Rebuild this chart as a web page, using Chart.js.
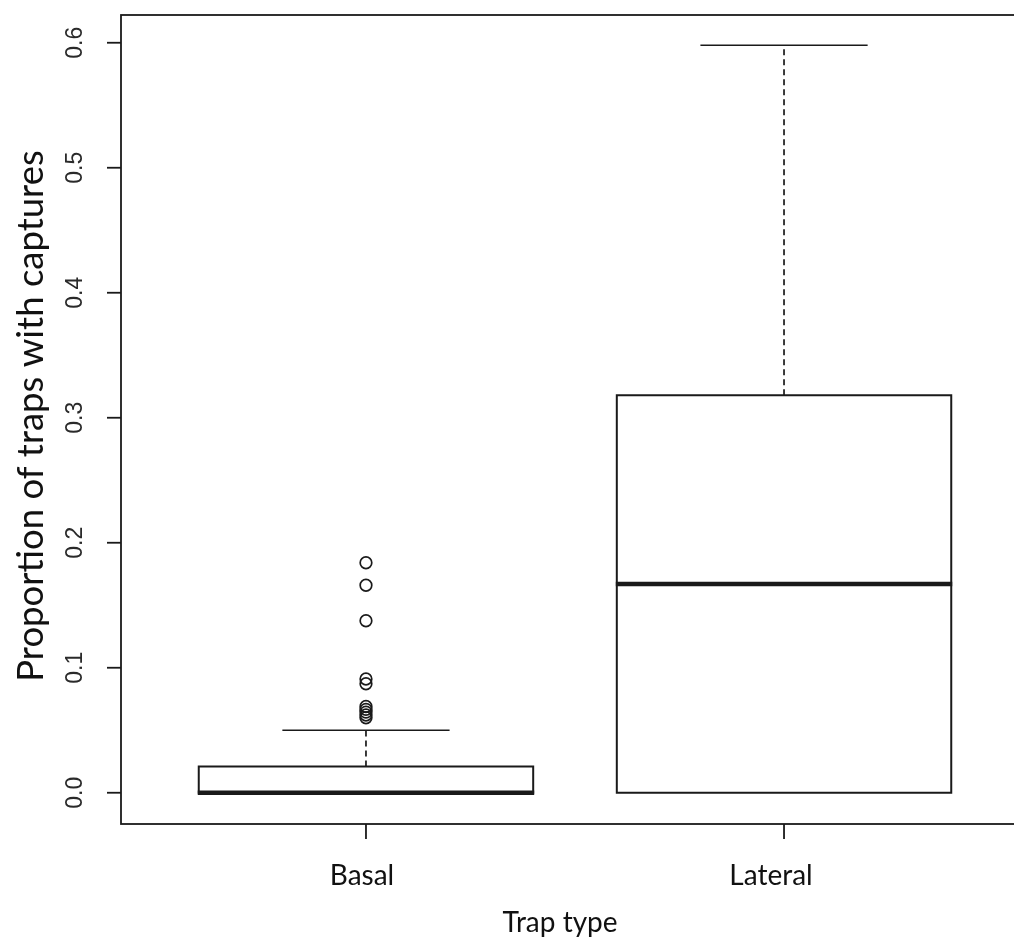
<!DOCTYPE html>
<html>
<head>
<meta charset="UTF-8">
<script src="https://cdn.jsdelivr.net/npm/chart.js@4.4.0/dist/chart.umd.min.js"></script>
<style>
  html, body { margin: 0; padding: 0; background: #fff; overflow: hidden; }
  #chart { display: block; }
</style>
</head>
<body>
<canvas id="chart" width="1030" height="941"></canvas>
<script>
// データ
const categories = ["Basal", "Lateral"];
const categoryPos = [1, 2];
const q1Values = [0, 0];
const medianValues = [0, 0.167];
const q3Values = [0.021, 0.318];
const whiskerLow = [0, 0];
const whiskerHigh = [0.05, 0.598];
const basalOutliers = [0.184, 0.166, 0.1376, 0.091, 0.0872, 0.069, 0.0667, 0.0645, 0.0622, 0.06];
const yTickValues = [0, 0.1, 0.2, 0.3, 0.4, 0.5, 0.6];
const yTickLabels = ["0.0", "0.1", "0.2", "0.3", "0.4", "0.5", "0.6"];
const xTitle = "Trap type";
const yTitle = "Proportion of traps with captures";

const LINE = "#1a1a1a";

// 箱ひげ図と軸を描くプラグイン
const boxplotPlugin = {
  id: "boxplot",
  beforeDatasetsDraw(chart) {
    const ctx = chart.ctx;
    const xs = chart.scales.x;
    const ys = chart.scales.y;
    const boxHalf = 0.4;
    const capHalf = 0.2;
    ctx.save();
    ctx.strokeStyle = LINE;
    for (let i = 0; i < categories.length; i++) {
      const cx = xs.getPixelForValue(categoryPos[i]);
      const left = xs.getPixelForValue(categoryPos[i] - boxHalf);
      const right = xs.getPixelForValue(categoryPos[i] + boxHalf);
      const capL = xs.getPixelForValue(categoryPos[i] - capHalf);
      const capR = xs.getPixelForValue(categoryPos[i] + capHalf);
      const yq1 = ys.getPixelForValue(q1Values[i]);
      const yq3 = ys.getPixelForValue(q3Values[i]);
      const ymed = ys.getPixelForValue(medianValues[i]);
      const yhi = ys.getPixelForValue(whiskerHigh[i]);
      const ylo = ys.getPixelForValue(whiskerLow[i]);

      // ひげ（破線）
      ctx.lineWidth = 1.7;
      ctx.setLineDash([6, 4]);
      ctx.beginPath();
      ctx.moveTo(cx, yq3);
      ctx.lineTo(cx, yhi);
      if (ylo > yq1 + 0.5) {
        ctx.moveTo(cx, yq1);
        ctx.lineTo(cx, ylo);
      }
      ctx.stroke();
      ctx.setLineDash([]);

      // キャップ
      ctx.beginPath();
      ctx.moveTo(capL, yhi);
      ctx.lineTo(capR, yhi);
      if (ylo > yq1 + 0.5) {
        ctx.moveTo(capL, ylo);
        ctx.lineTo(capR, ylo);
      }
      ctx.stroke();

      // 箱
      ctx.lineWidth = 2;
      ctx.strokeRect(left, yq3, right - left, yq1 - yq3);

      // 中央値
      ctx.lineWidth = 4.5;
      ctx.beginPath();
      ctx.moveTo(left - 1, ymed);
      ctx.lineTo(right + 1, ymed);
      ctx.stroke();
    }
    ctx.restore();
  },
  afterDraw(chart) {
    const ctx = chart.ctx;
    const area = chart.chartArea;
    const xs = chart.scales.x;
    const ys = chart.scales.y;
    ctx.save();
    ctx.strokeStyle = LINE;
    ctx.lineWidth = 1.8;

    // 枠
    ctx.strokeRect(area.left, area.top, area.right - area.left, area.bottom - area.top);

    // y 目盛り
    ctx.fillStyle = "#2a2a2a";
    ctx.font = "23px 'Liberation Sans', Arial, sans-serif";
    ctx.textAlign = "center";
    ctx.textBaseline = "middle";
    for (let i = 0; i < yTickValues.length; i++) {
      const y = ys.getPixelForValue(yTickValues[i]);
      ctx.beginPath();
      ctx.moveTo(area.left, y);
      ctx.lineTo(area.left - 14, y);
      ctx.stroke();
      ctx.save();
      ctx.translate(76, y);
      ctx.rotate(-Math.PI / 2);
      ctx.fillText(yTickLabels[i], 0, 0);
      ctx.restore();
    }

    // x 目盛り
    ctx.fillStyle = "#111";
    ctx.font = "28px Lato, 'Open Sans', sans-serif";
    ctx.textBaseline = "alphabetic";
    const labelShift = [-4, -13];
    for (let i = 0; i < categories.length; i++) {
      const x = xs.getPixelForValue(categoryPos[i]);
      ctx.beginPath();
      ctx.moveTo(x, area.bottom);
      ctx.lineTo(x, area.bottom + 15);
      ctx.stroke();
      ctx.fillText(categories[i], x + labelShift[i], 885);
    }

    // 軸タイトル
    ctx.font = "28px Lato, 'Open Sans', sans-serif";
    ctx.fillText(xTitle, 560, 932);
    ctx.save();
    ctx.font = "36.5px Lato, 'Open Sans', sans-serif";
    ctx.translate(43, 416);
    ctx.rotate(-Math.PI / 2);
    ctx.textBaseline = "alphabetic";
    ctx.fillText(yTitle, 0, 0);
    ctx.restore();

    ctx.restore();
  },
};

new Chart(document.getElementById("chart"), {
  type: "scatter",
  data: {
    datasets: [
      {
        label: "Basal outliers",
        data: basalOutliers.map((v) => ({ x: categoryPos[0], y: v })),
        pointStyle: "circle",
        pointRadius: 5.8,
        pointBorderWidth: 1.7,
        pointBorderColor: LINE,
        pointBackgroundColor: "rgba(255,255,255,0)",
      },
    ],
  },
  options: {
    responsive: false,
    animation: false,
    events: [],
    layout: { autoPadding: false, padding: { left: 121, top: 15, right: 1, bottom: 117 } },
    plugins: { legend: { display: false }, tooltip: { enabled: false } },
    scales: {
      x: { type: "linear", display: false, min: 0.414, max: 2.586 },
      y: { type: "linear", display: false, min: -0.025, max: 0.6222 },
    },
  },
  plugins: [boxplotPlugin],
});
</script>
</body>
</html>
